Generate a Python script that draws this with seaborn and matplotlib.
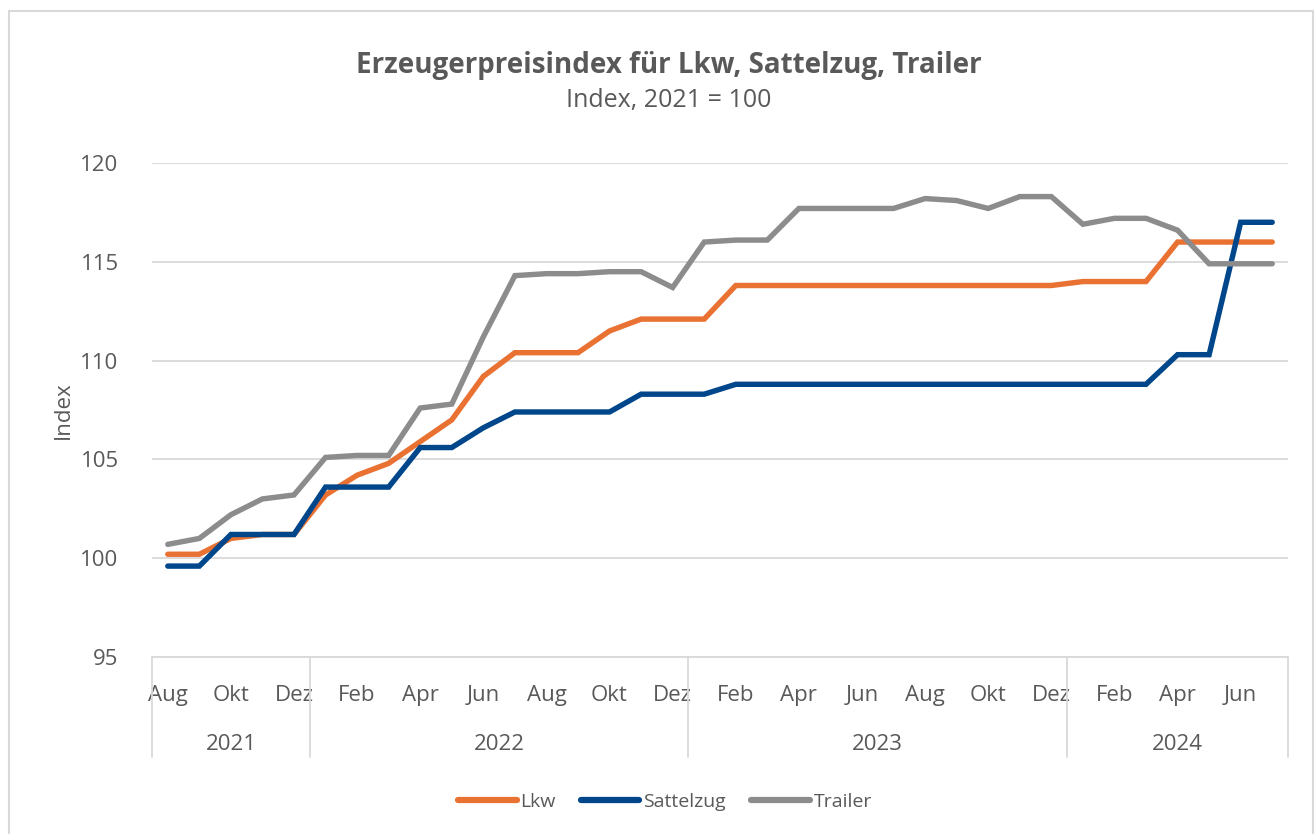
import pandas as pd
import matplotlib.pyplot as plt
import seaborn as sns
from matplotlib.patches import Rectangle
import matplotlib.transforms as mtransforms

# Monthly values Aug 2021 - Jul 2024
months = ["Aug", "Sep", "Okt", "Nov", "Dez",
          "Jan", "Feb", "Mrz", "Apr", "Mai", "Jun", "Jul", "Aug", "Sep", "Okt", "Nov", "Dez",
          "Jan", "Feb", "Mrz", "Apr", "Mai", "Jun", "Jul", "Aug", "Sep", "Okt", "Nov", "Dez",
          "Jan", "Feb", "Mrz", "Apr", "Mai", "Jun", "Jul"]
years = ["2021", "2022", "2023", "2024"]
year_counts = [5, 12, 12, 7]

lkw = [100.2, 100.2, 101.0, 101.2, 101.2,
       103.2, 104.2, 104.8, 105.9, 107.0, 109.2, 110.4, 110.4, 110.4, 111.5, 112.1, 112.1,
       112.1, 113.8, 113.8, 113.8, 113.8, 113.8, 113.8, 113.8, 113.8, 113.8, 113.8, 113.8,
       114.0, 114.0, 114.0, 116.0, 116.0, 116.0, 116.0]
sattelzug = [99.6, 99.6, 101.2, 101.2, 101.2,
             103.6, 103.6, 103.6, 105.6, 105.6, 106.6, 107.4, 107.4, 107.4, 107.4, 108.3, 108.3,
             108.3, 108.8, 108.8, 108.8, 108.8, 108.8, 108.8, 108.8, 108.8, 108.8, 108.8, 108.8,
             108.8, 108.8, 108.8, 110.3, 110.3, 117.0, 117.0]
trailer = [100.7, 101.0, 102.2, 103.0, 103.2,
           105.1, 105.2, 105.2, 107.6, 107.8, 111.2, 114.3, 114.4, 114.4, 114.5, 114.5, 113.7,
           116.0, 116.1, 116.1, 117.7, 117.7, 117.7, 117.7, 118.2, 118.1, 117.7, 118.3, 118.3,
           116.9, 117.2, 117.2, 116.6, 114.9, 114.9, 114.9]

series_names = ["Lkw", "Sattelzug", "Trailer"]
colors = ["#E97132", "#00468B", "#8C8C8C"]

n = len(months)
df = pd.DataFrame({
    "pos": list(range(n)) * 3,
    "value": lkw + sattelzug + trailer,
    "series": [s for s in series_names for _ in range(n)],
})

sns.set_theme(style="white")
plt.rcParams["font.family"] = ["Open Sans", "DejaVu Sans"]
txt = "#595959"
fs = 16

fig = plt.figure(figsize=(13.16, 8.34), dpi=100)
ax = fig.add_axes([152 / 1316, 1 - 657 / 834, (1288 - 152) / 1316, (657 - 163) / 834])

sns.lineplot(data=df, x="pos", y="value", hue="series", palette=colors,
             linewidth=3.9, ax=ax, legend=False)
for line in ax.lines:
    line.set_solid_capstyle("round")
    line.set_solid_joinstyle("miter")

ax.set_xlim(-0.5, n - 0.5)
ax.set_ylim(95, 120)
ax.set_yticks([95, 100, 105, 110, 115, 120])
ax.yaxis.grid(True, color="#D9D9D9", linewidth=1.3)
ax.set_axisbelow(True)
for side in ["top", "right", "left"]:
    ax.spines[side].set_visible(False)
ax.spines["bottom"].set_color("#D9D9D9")
ax.spines["bottom"].set_linewidth(1.3)

ax.set_xticks(list(range(0, n, 2)))
ax.set_xticklabels(months[::2])
ax.tick_params(axis="x", length=0, pad=20, labelsize=fs, colors=txt)
ax.tick_params(axis="y", length=0, pad=24, labelsize=fs, colors=txt)
ax.set_xlabel("")
ax.set_ylabel("Index", fontsize=fs, color=txt, labelpad=5)

# year level of the category axis
trans = mtransforms.blended_transform_factory(ax.transData, ax.transAxes)
depth = (757 - 657) / (657 - 163)
bounds = [-0.5]
for cnt in year_counts:
    bounds.append(bounds[-1] + cnt)
for b in bounds:
    ax.plot([b, b], [0, -depth], transform=trans, color="#D9D9D9",
            linewidth=1.3, clip_on=False)
for yr, a, b in zip(years, bounds[:-1], bounds[1:]):
    ax.text((a + b) / 2, -(744 - 657) / (657 - 163), yr, transform=trans,
            ha="center", va="center", fontsize=fs, color=txt)

fig.text(669 / 1316, 1 - 66 / 834, "Erzeugerpreisindex für Lkw, Sattelzug, Trailer",
         ha="center", va="center", fontsize=20, fontweight="bold", color=txt)
fig.text(669 / 1316, 1 - 101 / 834, "Index, 2021 = 100",
         ha="center", va="center", fontsize=18, color=txt)

handles = [plt.Line2D([], [], color=c, linewidth=4.5, solid_capstyle="round") for c in colors]
fig.legend(handles, series_names, loc="center", bbox_to_anchor=(665 / 1316, 1 - 802 / 834),
           ncol=3, frameon=False, fontsize=14, handlelength=3.0, handletextpad=0.2,
           columnspacing=1.3, labelcolor=txt)

fig.patches.append(Rectangle((9 / 1316, -0.05), (1313 - 9) / 1316, 1.05 - 10.5 / 834,
                             transform=fig.transFigure, fill=False,
                             edgecolor="#D9D9D9", linewidth=1.5))

fig.savefig("out.png", dpi=100)
